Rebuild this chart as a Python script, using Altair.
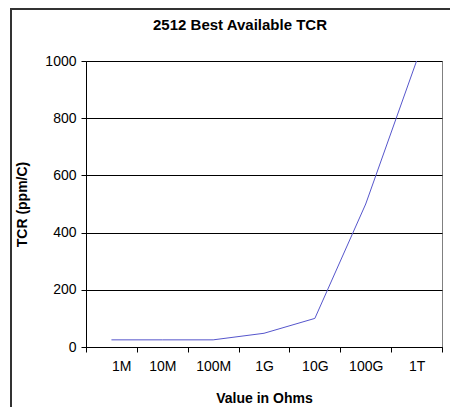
import altair as alt
import pandas as pd

categories = ["1M", "10M", "100M", "1G", "10G", "100G", "1T"]
tcr_values = [25, 25, 25, 48, 100, 500, 1000]
y_ticks = [0, 200, 400, 600, 800, 1000]
chart_title = "2512 Best Available TCR"

df = pd.DataFrame({
    "cat": categories,
    "pos": [i + 0.5 for i in range(len(categories))],
    "tcr": tcr_values,
})

FONT = "Liberation Sans"
W, H = 356, 286
n = len(categories)
label_expr = "[" + ",".join("'%s'" % c for c in categories) + ",''][round(datum.value)]"

line = alt.Chart(df).mark_line(color="#5656cc", strokeWidth=1).encode(
    x=alt.X("pos:Q",
            scale=alt.Scale(domain=[0, n], nice=False, zero=False),
            axis=alt.Axis(values=list(range(n + 1)), labelExpr=label_expr,
                          labelOffset=W / n / 2, grid=False, tickSize=5,
                          tickColor="#000000", domainColor="#000000",
                          labelPadding=7, labelFontSize=14, labelFont=FONT,
                          labelColor="#000000",
                          title="Value in Ohms", titleFont=FONT, titleFontSize=14,
                          titleFontWeight="bold", titleColor="#000000",
                          titleY=51, titleBaseline="middle")),
    y=alt.Y("tcr:Q",
            scale=alt.Scale(domain=[0, 1000], nice=False),
            axis=alt.Axis(values=y_ticks, format="d", grid=True, gridColor="#000000",
                          gridOpacity=1, tickSize=5, tickColor="#000000",
                          domainColor="#000000", labelPadding=5,
                          labelFontSize=14, labelFont=FONT, labelColor="#000000",
                          title="TCR (ppm/C)", titleFont=FONT, titleFontSize=14,
                          titleFontWeight="bold", titleColor="#000000",
                          titleX=-64, titleY=H / 2, titleAngle=-90,
                          titleAlign="center", titleBaseline="middle")),
)

border = alt.Chart(df).mark_rect(fill=None, stroke="#333333", strokeWidth=1.5).encode(
    x=alt.value(-75), x2=alt.value(420), y=alt.value(-52), y2=alt.value(400)
)

title = alt.Chart(pd.DataFrame({"t": [chart_title]})).mark_text(
    font=FONT, fontSize=15, fontWeight="bold", color="#000000",
    align="center", baseline="middle"
).encode(text="t:N", x=alt.value(154), y=alt.value(-36))

chart = alt.layer(border, line, title).properties(
    width=W, height=H,
    autosize=alt.AutoSizeParams(type="none"),
    padding={"left": 78, "top": 53, "right": 8, "bottom": 60},
).configure_view(stroke="#808080", strokeWidth=1)

chart.save("out.html", embed_options={"renderer": "svg", "actions": False})
